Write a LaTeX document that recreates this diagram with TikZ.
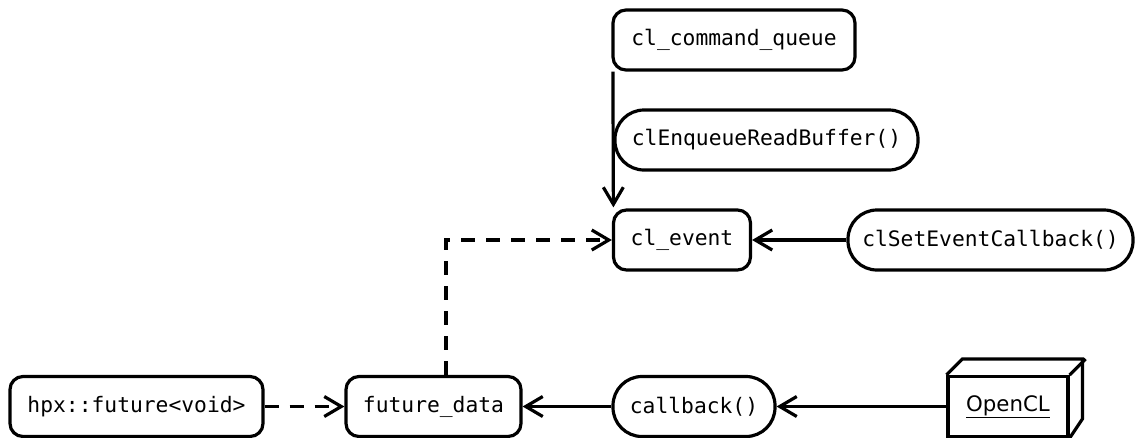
\documentclass[tikz,border=0pt]{standalone}
\usepackage{fontspec}
\setmainfont{DejaVu Sans}
\setmonofont{DejaVu Sans Mono}
\usetikzlibrary{arrows.meta,calc}
\begin{document}
\begin{tikzpicture}[x=1pt,y=-1pt,line width=3.2pt,
  box/.style={draw,rectangle,rounded corners=13pt,minimum height=60pt,inner sep=0pt,font=\ttfamily\fontsize{21.3}{24}\selectfont},
  pill/.style={draw,rectangle,rounded corners=29pt,minimum height=60pt,inner sep=0pt,font=\ttfamily\fontsize{21.3}{24}\selectfont},
  arr/.style={-{Straight Barb[length=17pt,width=20pt,line width=3.2pt]}},
  dsh/.style={dash pattern=on 14pt off 11pt}]
\useasboundingbox (0,0) rectangle (1135,437);
\clip (0,0) rectangle (1135,437);
\node[box,minimum width=242pt] (cq) at (734,40) {cl\_command\_queue};
\node[pill,minimum width=303pt] (erb) at (766.5,140) {clEnqueueReadBuffer()};
\node[box,minimum width=137pt] (ev) at (682,240) {cl\_event};
\node[pill,minimum width=285pt] (sec) at (990.5,240) {clSetEventCallback()};
\node[box,minimum width=253pt] (hpx) at (136.5,406.5) {hpx::future<void>};
\node[box,minimum width=175pt] (fd) at (433.5,406.5) {future\_data};
\node[pill,minimum width=162pt] (cb) at (694,406.5) {callback()};
\node[draw,rectangle,minimum width=120pt,minimum height=60pt,inner sep=0pt,font=\fontsize{21.3}{24}\selectfont] (ocl) at (1008,406.5) {\underline{OpenCL}};
\draw[line join=miter] (ocl.north west) -- ++(16,-16) -- ++(120,0) -- ++(0,60) -- (ocl.south east);
\draw (ocl.north east) -- ++(16,-16);
\draw[arr] ($(cq.south west)+(1.5,0)$) -- ($(ev.north west)+(1.5,-1)$);
\draw[arr] (sec.west) -- (ev.east);
\draw[arr,dsh] (fd.north) ++(12.5,0) |- (ev.west);
\draw[arr,dsh] (hpx.east) -- (fd.west);
\draw[arr] (cb.west) -- (fd.east);
\draw[arr] (ocl.west) -- (cb.east);
\end{tikzpicture}
\end{document}
